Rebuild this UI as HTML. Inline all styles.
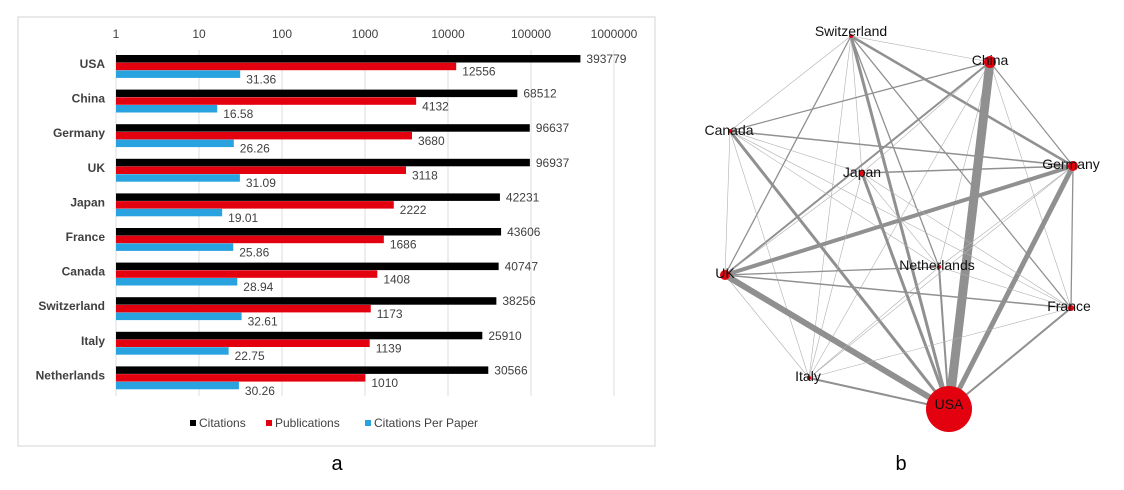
<!DOCTYPE html>
<html><head><meta charset="utf-8"><style>
body{margin:0;background:#fff;width:1124px;height:485px;overflow:hidden;font-family:"Liberation Sans",sans-serif}
</style></head><body>
<svg width="1124" height="485" xmlns="http://www.w3.org/2000/svg" font-family="Liberation Sans, sans-serif">
<rect x="18" y="17" width="637" height="429" fill="#fff" stroke="#e2e2e2" stroke-width="1.5"/>
<g stroke="#dcdcdc" stroke-width="1">
<line x1="116" y1="50" x2="116" y2="396"/><line x1="199" y1="50" x2="199" y2="396"/><line x1="282" y1="50" x2="282" y2="396"/><line x1="365" y1="50" x2="365" y2="396"/><line x1="448" y1="50" x2="448" y2="396"/><line x1="531" y1="50" x2="531" y2="396"/><line x1="614" y1="50" x2="614" y2="396"/>
</g>
<g font-size="12" fill="#404040" text-anchor="middle">
<text x="116" y="38">1</text><text x="199" y="38">10</text><text x="282" y="38">100</text><text x="365" y="38">1000</text><text x="448" y="38">10000</text><text x="531" y="38">100000</text><text x="614" y="38">1000000</text>
</g>
<g id="bars"></g>
<g font-size="12">
<rect x="190" y="420" width="6" height="6" fill="#000"/><text x="199" y="427" fill="#404040">Citations</text>
<rect x="266" y="420" width="6" height="6" fill="#e3000f"/><text x="275" y="427" fill="#404040">Publications</text>
<rect x="365" y="420" width="6" height="6" fill="#29a3e0"/><text x="374" y="427" fill="#404040">Citations Per Paper</text>
</g>
<text x="337" y="470" font-size="20" text-anchor="middle">a</text>
<text x="901" y="470" font-size="20" text-anchor="middle">b</text>
<g id="net"></g>
</svg>
<script>
var data=[["USA",393779,12556,31.36],["China",68512,4132,16.58],["Germany",96637,3680,26.26],["UK",96937,3118,31.09],["Japan",42231,2222,19.01],["France",43606,1686,25.86],["Canada",40747,1408,28.94],["Switzerland",38256,1173,32.61],["Italy",25910,1139,22.75],["Netherlands",30566,1010,30.26]];
var ns="http://www.w3.org/2000/svg";
function el(p,t,a,txt){var e=document.createElementNS(ns,t);for(var k in a)e.setAttribute(k,a[k]);if(txt!=null)e.textContent=txt;p.appendChild(e);return e;}
var g=document.getElementById("bars");
function X(v){return 116+83*Math.log10(v);}
data.forEach(function(d,i){var y=55+i*34.6;
el(g,"text",{x:105,y:y+13,"font-size":12,"font-weight":"bold",fill:"#404040","text-anchor":"end"},d[0]);
var cols=["#000","#e3000f","#29a3e0"];
for(var j=0;j<3;j++){var v=d[j+1];var yy=y+j*7.7;
el(g,"rect",{x:116,y:yy,width:X(v)-116,height:7.5,fill:cols[j]});
el(g,"text",{x:X(v)+6,y:yy+8+(j?5:0),"font-size":12,fill:"#404040"},String(v));}
});
var N={Switzerland:[851,36],China:[990,62],Canada:[730,131],Germany:[1073,166],Japan:[862,173],UK:[725,275],Netherlands:[939,267],France:[1071,308],Italy:[809,378],USA:[949,409]};
var names=Object.keys(N);var net=document.getElementById("net");
var W={"USA-China":9,"USA-UK":6,"USA-Germany":5,"UK-Germany":4,"USA-Canada":3,"USA-Japan":3,"USA-Switzerland":3,"Switzerland-Germany":2.5,"UK-China":2,"USA-France":2,"USA-Italy":2,"USA-Netherlands":2,"UK-France":1.5,"Canada-Germany":1.5,"Japan-Germany":1.5,"Canada-China":1.3,"Switzerland-UK":1.3,"UK-Netherlands":1.3,"Germany-France":1.3,"Switzerland-France":1.3,"China-Germany":1.2,"Switzerland-Netherlands":1.3};
for(var a=0;a<names.length;a++)for(var b=a+1;b<names.length;b++){var k1=names[a]+"-"+names[b],k2=names[b]+"-"+names[a];var w=W[k1]||W[k2]||0.6;
el(net,"line",{x1:N[names[a]][0],y1:N[names[a]][1],x2:N[names[b]][0],y2:N[names[b]][1],stroke:w>1?"#909090":"#b0b0b0","stroke-width":w});}
var R={USA:23,China:6,Germany:5,UK:5,Japan:3,France:3,Canada:2,Switzerland:2,Italy:2,Netherlands:2};
names.forEach(function(n){el(net,"circle",{cx:N[n][0],cy:N[n][1],r:R[n],fill:"#e3000f"});});
var L={Switzerland:[851,36],China:[990,65],Canada:[729,135],Germany:[1071,169],Japan:[862,177],UK:[725,278],Netherlands:[937,270],France:[1069,311],Italy:[808,381],USA:[949,409]};
names.forEach(function(n){el(net,"text",{x:L[n][0],y:L[n][1],"font-size":14,fill:"#111","text-anchor":"middle"},n);});
</script>
</body></html>
